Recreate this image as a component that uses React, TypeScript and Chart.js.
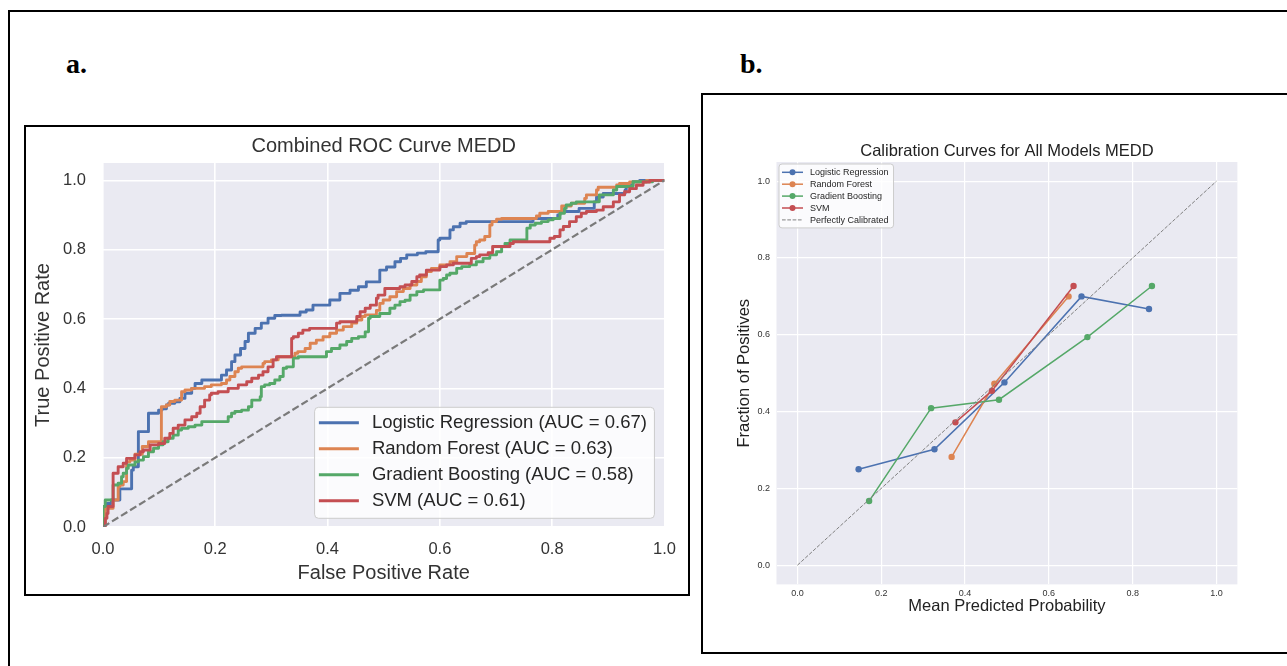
import React, { useEffect, useRef } from "react";
import { Chart, registerables } from "chart.js";

Chart.register(...registerables);

const SANS = "'Liberation Sans', Arial, Helvetica, sans-serif";
const SERIF = "'Liberation Serif', 'Times New Roman', serif";

// ---------- data ----------
const modelNames = ["Logistic Regression", "Random Forest", "Gradient Boosting", "SVM"];
const modelColors = ["#4C72B0", "#DD8452", "#55A868", "#C44E52"];
const rocAuc = [0.67, 0.63, 0.58, 0.61];
const rocTickValues = [0, 0.2, 0.4, 0.6, 0.8, 1.0];
const calTickValues = [0, 0.2, 0.4, 0.6, 0.8, 1.0];

// ROC curves: [false positive rate, true positive rate]
const rocLogReg: number[][] = [
  [0, 0], [0.004, 0.01], [0.007, 0.059], [0.015, 0.068], [0.03, 0.078], [0.033, 0.11], [0.051, 0.11],
  [0.054, 0.164], [0.063, 0.174], [0.063, 0.251], [0.069, 0.275], [0.081, 0.275], [0.084, 0.328],
  [0.099, 0.328], [0.105, 0.337], [0.113, 0.341], [0.117, 0.352], [0.128, 0.357], [0.137, 0.361],
  [0.146, 0.371], [0.158, 0.386], [0.164, 0.4], [0.176, 0.414], [0.193, 0.424], [0.211, 0.424],
  [0.22, 0.438], [0.229, 0.453], [0.235, 0.477], [0.245, 0.496], [0.253, 0.515], [0.259, 0.535],
  [0.271, 0.559], [0.282, 0.573], [0.294, 0.588], [0.306, 0.602], [0.318, 0.61], [0.351, 0.611],
  [0.362, 0.62], [0.374, 0.626], [0.404, 0.64], [0.422, 0.655], [0.44, 0.674], [0.455, 0.683],
  [0.469, 0.693], [0.493, 0.707], [0.505, 0.741], [0.52, 0.75], [0.53, 0.765], [0.541, 0.775],
  [0.56, 0.785], [0.575, 0.79], [0.597, 0.794], [0.6, 0.828], [0.618, 0.833], [0.624, 0.857],
  [0.636, 0.866], [0.647, 0.876], [0.766, 0.881], [0.775, 0.89], [0.81, 0.89], [0.814, 0.9],
  [0.848, 0.91], [0.852, 0.919], [0.875, 0.919], [0.879, 0.938], [0.891, 0.952], [0.93, 0.962],
  [0.932, 0.972], [0.944, 0.986], [0.956, 0.996], [1, 1],
];
const rocRandomForest: number[][] = [
  [0, 0], [0.004, 0.01], [0.009, 0.054], [0.018, 0.054], [0.027, 0.078], [0.03, 0.116], [0.036, 0.121],
  [0.042, 0.131], [0.042, 0.174], [0.048, 0.188], [0.057, 0.193], [0.07, 0.21], [0.081, 0.232],
  [0.084, 0.246], [0.104, 0.246], [0.104, 0.347], [0.113, 0.347], [0.119, 0.352], [0.128, 0.362],
  [0.14, 0.366], [0.146, 0.39], [0.158, 0.395], [0.181, 0.4], [0.193, 0.405], [0.211, 0.41],
  [0.22, 0.414], [0.226, 0.424], [0.235, 0.434], [0.241, 0.448], [0.247, 0.458], [0.285, 0.462],
  [0.288, 0.472], [0.3, 0.477], [0.312, 0.482], [0.342, 0.491], [0.347, 0.501], [0.36, 0.506],
  [0.369, 0.515], [0.38, 0.53], [0.392, 0.539], [0.404, 0.549], [0.416, 0.559], [0.428, 0.568],
  [0.443, 0.578], [0.452, 0.588], [0.461, 0.597], [0.467, 0.607], [0.487, 0.612], [0.493, 0.625],
  [0.499, 0.645], [0.511, 0.655], [0.523, 0.664], [0.535, 0.679], [0.547, 0.688], [0.559, 0.698],
  [0.567, 0.708], [0.576, 0.722], [0.585, 0.737], [0.6, 0.746], [0.618, 0.756], [0.63, 0.765],
  [0.648, 0.78], [0.662, 0.789], [0.665, 0.813], [0.671, 0.823], [0.68, 0.828], [0.689, 0.838],
  [0.693, 0.871], [0.701, 0.881], [0.71, 0.888], [0.772, 0.89], [0.778, 0.897], [0.793, 0.905],
  [0.799, 0.91], [0.817, 0.91], [0.834, 0.926], [0.84, 0.934], [0.858, 0.934], [0.861, 0.948],
  [0.879, 0.958], [0.882, 0.972], [0.891, 0.98], [0.915, 0.98], [0.92, 0.987], [0.938, 0.991],
  [0.968, 0.995], [0.975, 1], [1, 1],
];
const rocGradBoost: number[][] = [
  [0, 0], [0, 0.04], [0.004, 0.059], [0.018, 0.078], [0.027, 0.121], [0.033, 0.126], [0.036, 0.145],
  [0.042, 0.155], [0.045, 0.169], [0.057, 0.179], [0.063, 0.188], [0.072, 0.193], [0.081, 0.203],
  [0.09, 0.217], [0.099, 0.227], [0.107, 0.237], [0.116, 0.246], [0.125, 0.256], [0.134, 0.265],
  [0.14, 0.28], [0.152, 0.285], [0.164, 0.289], [0.176, 0.294], [0.181, 0.304], [0.223, 0.304],
  [0.229, 0.318], [0.235, 0.328], [0.247, 0.333], [0.259, 0.337], [0.265, 0.347], [0.268, 0.366],
  [0.28, 0.366], [0.282, 0.376], [0.288, 0.405], [0.297, 0.41], [0.306, 0.414], [0.315, 0.424],
  [0.321, 0.434], [0.327, 0.458], [0.339, 0.462], [0.348, 0.487], [0.356, 0.491], [0.398, 0.491],
  [0.407, 0.506], [0.422, 0.515], [0.434, 0.525], [0.443, 0.535], [0.455, 0.544], [0.467, 0.549],
  [0.473, 0.563], [0.476, 0.602], [0.493, 0.607], [0.511, 0.616], [0.52, 0.631], [0.529, 0.64],
  [0.538, 0.65], [0.547, 0.654], [0.559, 0.669], [0.571, 0.679], [0.6, 0.684], [0.606, 0.712],
  [0.612, 0.717], [0.618, 0.727], [0.63, 0.732], [0.639, 0.746], [0.653, 0.751], [0.665, 0.756],
  [0.677, 0.765], [0.689, 0.775], [0.701, 0.785], [0.71, 0.794], [0.716, 0.809], [0.725, 0.818],
  [0.734, 0.828], [0.755, 0.828], [0.761, 0.862], [0.77, 0.871], [0.781, 0.876], [0.793, 0.881],
  [0.802, 0.886], [0.814, 0.89], [0.822, 0.905], [0.825, 0.919], [0.834, 0.929], [0.843, 0.934],
  [0.884, 0.938], [0.909, 0.958], [0.915, 0.972], [0.92, 0.982], [0.944, 0.982], [0.979, 0.996],
  [1, 1],
];
const rocSvm: number[][] = [
  [0, 0], [0.004, 0.0], [0.007, 0.025], [0.009, 0.039], [0.018, 0.059], [0.018, 0.145], [0.027, 0.155],
  [0.036, 0.174], [0.042, 0.184], [0.057, 0.198], [0.066, 0.208], [0.072, 0.217], [0.084, 0.222],
  [0.099, 0.237], [0.11, 0.241], [0.119, 0.256], [0.125, 0.27], [0.134, 0.285], [0.146, 0.294],
  [0.158, 0.309], [0.167, 0.318], [0.173, 0.328], [0.181, 0.347], [0.19, 0.366], [0.193, 0.381],
  [0.205, 0.386], [0.223, 0.39], [0.241, 0.4], [0.256, 0.41], [0.265, 0.419], [0.277, 0.429],
  [0.285, 0.438], [0.294, 0.448], [0.303, 0.462], [0.309, 0.482], [0.315, 0.491], [0.336, 0.491],
  [0.339, 0.544], [0.348, 0.549], [0.356, 0.559], [0.368, 0.568], [0.374, 0.573], [0.416, 0.573],
  [0.422, 0.588], [0.431, 0.592], [0.452, 0.592], [0.458, 0.607], [0.467, 0.621], [0.476, 0.631],
  [0.487, 0.64], [0.49, 0.66], [0.502, 0.669], [0.505, 0.688], [0.529, 0.688], [0.538, 0.693],
  [0.55, 0.698], [0.559, 0.708], [0.564, 0.722], [0.576, 0.727], [0.6, 0.741], [0.612, 0.751],
  [0.624, 0.756], [0.636, 0.761], [0.656, 0.761], [0.665, 0.775], [0.671, 0.78], [0.686, 0.785],
  [0.694, 0.791], [0.725, 0.809], [0.731, 0.818], [0.796, 0.823], [0.804, 0.833], [0.814, 0.838],
  [0.82, 0.857], [0.831, 0.867], [0.843, 0.881], [0.852, 0.895], [0.861, 0.905], [0.879, 0.91],
  [0.891, 0.914], [0.909, 0.924], [0.92, 0.938], [0.929, 0.958], [0.938, 0.967], [0.95, 0.976],
  [0.962, 0.986], [0.974, 0.995], [1, 1],
];
const chanceLine: number[][] = [[0, 0], [1, 1]];

// Calibration curves: mean predicted probability (x) / fraction of positives (y)
const calLogRegX = [0.146, 0.327, 0.494, 0.678, 0.839];
const calLogRegY = [0.25, 0.302, 0.476, 0.7, 0.667];
const calRandomForestX = [0.368, 0.47, 0.647];
const calRandomForestY = [0.282, 0.4725, 0.7];
const calGradBoostX = [0.171, 0.319, 0.481, 0.692, 0.846];
const calGradBoostY = [0.167, 0.409, 0.431, 0.594, 0.727];
const calSvmX = [0.377, 0.464, 0.659];
const calSvmY = [0.372, 0.454, 0.727];
const perfectX = [0, 1];
const perfectY = [0, 1];

// ---------- helpers ----------
const pairsToXY = (pairs: number[][]) => pairs.map(([x, y]) => ({ x, y }));
const zipXY = (xs: number[], ys: number[]) => xs.map((x, i) => ({ x, y: ys[i] }));

const plotBg = (color: string) => ({
  id: "plotBg",
  beforeDraw(chart: any) {
    const { ctx, chartArea: a } = chart;
    ctx.save();
    ctx.fillStyle = color;
    ctx.fillRect(a.left, a.top, a.right - a.left, a.bottom - a.top);
    ctx.restore();
  },
});

type LegendItem = { label: string; color: string; dashed?: boolean; marker?: boolean };
type LegendCfg = {
  items: LegendItem[];
  fontSize: number;
  corner: "lr" | "ul";
  dx: number;
  dy: number;
  padL: number;
  sampleLen: number;
  textGap: number;
  padR: number;
  padT: number;
  padB: number;
  rowH: number;
  lineWidth: number;
  markerR: number;
  dash: number[];
  dashWidth: number;
  radius: number;
};

const boxLegend = (cfg: LegendCfg) => ({
  id: "boxLegend",
  afterDraw(chart: any) {
    const { ctx, chartArea: a } = chart;
    ctx.save();
    ctx.font = `${cfg.fontSize}px ${SANS}`;
    const tw = Math.max(...cfg.items.map((it) => ctx.measureText(it.label).width));
    const w = cfg.padL + cfg.sampleLen + cfg.textGap + tw + cfg.padR;
    const h = cfg.padT + cfg.rowH * (cfg.items.length - 1) + cfg.padB;
    const x0 = cfg.corner === "lr" ? a.right - cfg.dx - w : a.left + cfg.dx;
    const y0 = cfg.corner === "lr" ? a.bottom - cfg.dy - h : a.top + cfg.dy;
    const r = cfg.radius;
    ctx.beginPath();
    ctx.moveTo(x0 + r, y0);
    ctx.lineTo(x0 + w - r, y0);
    ctx.arcTo(x0 + w, y0, x0 + w, y0 + r, r);
    ctx.lineTo(x0 + w, y0 + h - r);
    ctx.arcTo(x0 + w, y0 + h, x0 + w - r, y0 + h, r);
    ctx.lineTo(x0 + r, y0 + h);
    ctx.arcTo(x0, y0 + h, x0, y0 + h - r, r);
    ctx.lineTo(x0, y0 + r);
    ctx.arcTo(x0, y0, x0 + r, y0, r);
    ctx.closePath();
    ctx.fillStyle = "rgba(255,255,255,0.8)";
    ctx.fill();
    ctx.strokeStyle = "#cccccc";
    ctx.lineWidth = 1;
    ctx.stroke();
    cfg.items.forEach((it, i) => {
      const cy = y0 + cfg.padT + i * cfg.rowH;
      const sx = x0 + cfg.padL;
      ctx.beginPath();
      ctx.strokeStyle = it.color;
      if (it.dashed) {
        ctx.setLineDash(cfg.dash);
        ctx.lineWidth = cfg.dashWidth;
      } else {
        ctx.setLineDash([]);
        ctx.lineWidth = cfg.lineWidth;
      }
      ctx.moveTo(sx, cy);
      ctx.lineTo(sx + cfg.sampleLen, cy);
      ctx.stroke();
      ctx.setLineDash([]);
      if (it.marker) {
        ctx.beginPath();
        ctx.fillStyle = it.color;
        ctx.arc(sx + cfg.sampleLen / 2, cy, cfg.markerR, 0, Math.PI * 2);
        ctx.fill();
      }
      ctx.fillStyle = "#262626";
      ctx.textBaseline = "middle";
      ctx.textAlign = "left";
      ctx.fillText(it.label, sx + cfg.sampleLen + cfg.textGap, cy + 0.5);
    });
    ctx.restore();
  },
});

const setTicks = (values: number[]) => (scale: any) => {
  scale.ticks = values.map((v) => ({ value: v }));
};

// ---------- ROC chart ----------
function RocChart() {
  const ref = useRef<HTMLCanvasElement | null>(null);
  useEffect(() => {
    if (!ref.current) return;
    const curves = [rocLogReg, rocRandomForest, rocGradBoost, rocSvm];
    const datasets: any[] = curves.map((c, i) => ({
      label: `${modelNames[i]} (AUC = ${rocAuc[i].toFixed(2)})`,
      data: pairsToXY(c),
      borderColor: modelColors[i],
      backgroundColor: modelColors[i],
      borderWidth: 2.9,
      pointRadius: 0,
      stepped: "after",
      fill: false,
      order: 4 - i,
      borderJoinStyle: "round",
    }));
    datasets.push({
      label: "Chance",
      data: pairsToXY(chanceLine),
      borderColor: "#7a7a7a",
      borderWidth: 2.2,
      borderDash: [7.4, 3.2],
      pointRadius: 0,
      fill: false,
      order: 0,
    });
    const tickFont = { family: SANS, size: 16.5 };
    const titleFont = { family: SANS, size: 20 };
    const chart = new Chart(ref.current, {
      type: "line",
      data: { datasets },
      options: {
        animation: false,
        responsive: false,
        layout: { padding: { left: 0, right: 23, top: 0, bottom: 0 } },
        plugins: {
          legend: { display: false },
          tooltip: { enabled: false },
          title: {
            display: true,
            fullSize: false,
            text: "Combined ROC Curve MEDD",
            color: "#333333",
            font: { family: SANS, size: 20, weight: "normal" },
            padding: { top: 7, bottom: 5 },
          },
        },
        scales: {
          x: {
            type: "linear",
            min: 0,
            max: 1,
            afterBuildTicks: setTicks(rocTickValues),
            afterFit: (s: any) => {
              s.height = 67;
            },
            ticks: {
              autoSkip: false,
              maxRotation: 0,
              padding: 12.1,
              color: "#333333",
              font: tickFont,
              callback: (v: any) => Number(v).toFixed(1),
            },
            grid: { color: "#ffffff", lineWidth: 1.6, drawTicks: false },
            border: { display: false },
            title: {
              display: true,
              text: "False Positive Rate",
              color: "#333333",
              font: titleFont,
              padding: { top: 0, bottom: 9 },
            },
          },
          y: {
            type: "linear",
            min: 0,
            max: 1.05,
            afterBuildTicks: setTicks(rocTickValues),
            afterFit: (s: any) => {
              s.width = 77;
            },
            ticks: {
              autoSkip: false,
              padding: 17,
              color: "#333333",
              font: tickFont,
              callback: (v: any) => Number(v).toFixed(1),
            },
            grid: { color: "#ffffff", lineWidth: 1.6, drawTicks: false },
            border: { display: false },
            title: {
              display: true,
              text: "True Positive Rate",
              color: "#333333",
              font: titleFont,
              padding: { top: 5, bottom: 0 },
            },
          },
        },
      } as any,
      plugins: [
        plotBg("#EAEAF2"),
        boxLegend({
          items: modelNames.map((n, i) => ({
            label: `${n} (AUC = ${rocAuc[i].toFixed(2)})`,
            color: modelColors[i],
          })),
          fontSize: 18.5,
          corner: "lr",
          dx: 10,
          dy: 8.7,
          padL: 4.3,
          sampleLen: 40,
          textGap: 13,
          padR: 7.5,
          padT: 15.4,
          padB: 17.6,
          rowH: 26,
          lineWidth: 2.9,
          markerR: 0,
          dash: [],
          dashWidth: 1,
          radius: 4,
        }),
      ],
    });
    return () => chart.destroy();
  }, []);
  return <canvas ref={ref} width={662} height={467} style={{ display: "block", width: 662, height: 467 }} />;
}

// ---------- Calibration chart ----------
function CalibrationChart() {
  const ref = useRef<HTMLCanvasElement | null>(null);
  useEffect(() => {
    if (!ref.current) return;
    const series = [
      zipXY(calLogRegX, calLogRegY),
      zipXY(calRandomForestX, calRandomForestY),
      zipXY(calGradBoostX, calGradBoostY),
      zipXY(calSvmX, calSvmY),
    ];
    const datasets: any[] = series.map((d, i) => ({
      label: modelNames[i],
      data: d,
      borderColor: modelColors[i],
      backgroundColor: modelColors[i],
      borderWidth: 1.5,
      pointRadius: 3.2,
      pointBorderWidth: 0,
      pointBackgroundColor: modelColors[i],
      fill: false,
      order: 5 - i,
    }));
    datasets.push({
      label: "Perfectly Calibrated",
      data: zipXY(perfectX, perfectY),
      borderColor: "#808080",
      borderWidth: 1,
      borderDash: [3.7, 1.6],
      pointRadius: 0,
      fill: false,
      order: 0,
    });
    const tickFont = { family: SANS, size: 9 };
    const titleFont = { family: SANS, size: 16.5 };
    const chart = new Chart(ref.current, {
      type: "line",
      data: { datasets },
      options: {
        animation: false,
        responsive: false,
        layout: { padding: { left: 0, right: 49.6, top: 0, bottom: 0 } },
        plugins: {
          legend: { display: false },
          tooltip: { enabled: false },
          title: {
            display: true,
            fullSize: false,
            text: "Calibration Curves for All Models MEDD",
            color: "#222222",
            font: { family: SANS, size: 16.5, weight: "normal" },
            padding: { top: 46.6, bottom: 0.6 },
          },
        },
        scales: {
          x: {
            type: "linear",
            min: -0.05,
            max: 1.05,
            afterBuildTicks: setTicks(calTickValues),
            afterFit: (s: any) => {
              s.height = 67.6;
            },
            ticks: {
              autoSkip: false,
              maxRotation: 0,
              padding: 3.9,
              color: "#333333",
              font: tickFont,
              callback: (v: any) => Number(v).toFixed(1),
            },
            grid: { color: "#ffffff", lineWidth: 1.2, drawTicks: false },
            border: { display: false },
            title: {
              display: true,
              text: "Mean Predicted Probability",
              color: "#222222",
              font: titleFont,
              padding: { top: 0, bottom: 36.1 },
            },
          },
          y: {
            type: "linear",
            min: -0.05,
            max: 1.05,
            afterBuildTicks: setTicks(calTickValues),
            afterFit: (s: any) => {
              s.width = 73.5;
            },
            ticks: {
              autoSkip: false,
              padding: 6.5,
              color: "#333333",
              font: tickFont,
              callback: (v: any) => Number(v).toFixed(1),
            },
            grid: { color: "#ffffff", lineWidth: 1.2, drawTicks: false },
            border: { display: false },
            title: {
              display: true,
              text: "Fraction of Positives",
              color: "#222222",
              font: titleFont,
              padding: { top: 31.1, bottom: 0 },
            },
          },
        },
      } as any,
      plugins: [
        plotBg("#EAEAF2"),
        boxLegend({
          items: [
            ...modelNames.map((n, i) => ({ label: n, color: modelColors[i], marker: true })),
            { label: "Perfectly Calibrated", color: "#808080", dashed: true },
          ],
          fontSize: 9,
          corner: "ul",
          dx: 2.5,
          dy: 2,
          padL: 3,
          sampleLen: 21,
          textGap: 7,
          padR: 5,
          padT: 8.3,
          padB: 8,
          rowH: 11.9,
          lineWidth: 1.5,
          markerR: 3,
          dash: [3.7, 1.6],
          dashWidth: 1,
          radius: 3,
        }),
      ],
    });
    return () => chart.destroy();
  }, []);
  return <canvas ref={ref} width={584} height={557} style={{ display: "block", width: 584, height: 557 }} />;
}

// ---------- page ----------
export default function App() {
  const label: React.CSSProperties = {
    position: "absolute",
    top: 50,
    fontFamily: SERIF,
    fontWeight: "bold",
    fontSize: 28,
    lineHeight: "28px",
    color: "#000",
  };
  return (
    <div
      style={{
        position: "fixed",
        left: 0,
        top: 0,
        width: 1287,
        height: 666,
        overflow: "hidden",
        background: "#ffffff",
      }}
    >
      <div
        style={{
          position: "absolute",
          left: 8,
          top: 10,
          width: 1320,
          height: 720,
          border: "2.5px solid #000",
          boxSizing: "border-box",
        }}
      />
      <div style={{ ...label, left: 66 }}>a.</div>
      <div style={{ ...label, left: 740 }}>b.</div>
      <div
        style={{
          position: "absolute",
          left: 24,
          top: 125,
          width: 666,
          height: 471,
          border: "2px solid #000",
          boxSizing: "border-box",
          background: "#fff",
        }}
      >
        <RocChart />
      </div>
      <div
        style={{
          position: "absolute",
          left: 701,
          top: 93,
          width: 620,
          height: 561,
          border: "2px solid #000",
          boxSizing: "border-box",
          background: "#fff",
        }}
      >
        <CalibrationChart />
      </div>
    </div>
  );
}
